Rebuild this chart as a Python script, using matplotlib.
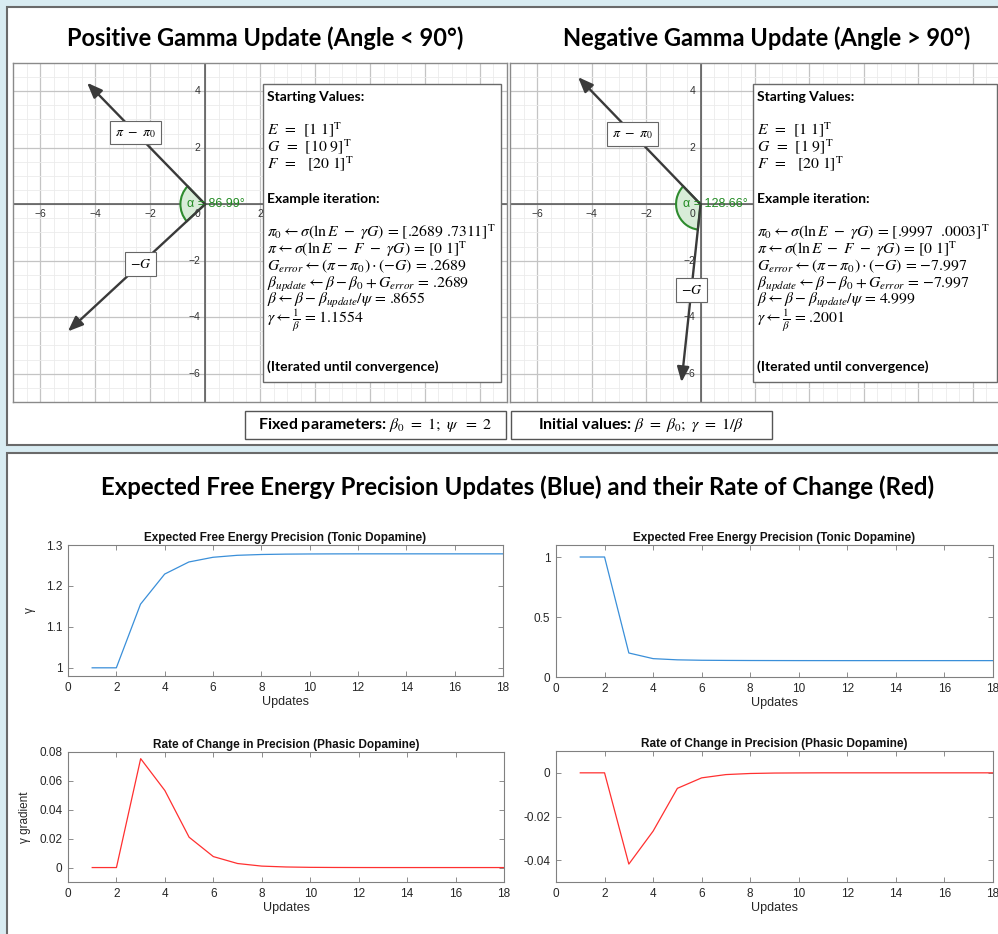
import numpy as np
import matplotlib
matplotlib.use('Agg')
import matplotlib.pyplot as plt
from matplotlib.patches import Rectangle, Wedge

plt.rcParams['mathtext.fontset'] = 'stix'
plt.rcParams['axes.unicode_minus'] = False

# ---------------- data ----------------
updates = np.arange(1, 19)
gamma_pos = [1.0, 1.0, 1.1554, 1.229, 1.2585, 1.270, 1.2748, 1.2768, 1.2777, 1.2781,
             1.2783, 1.2784, 1.2784, 1.2784, 1.2784, 1.2784, 1.2784, 1.2784]
rate_pos = [0, 0, 0.0754, 0.0533, 0.0210, 0.0076, 0.0028, 0.0010, 0.0004, 0.00015,
            0.00006, 0.00002, 0, 0, 0, 0, 0, 0]
gamma_neg = [1.0, 1.0, 0.2001, 0.153, 0.143, 0.1395, 0.1382, 0.1374, 0.1370, 0.1367,
             0.1366, 0.1365, 0.1365, 0.1365, 0.1365, 0.1365, 0.1365, 0.1365]
rate_neg = [0, 0, -0.0418, -0.0267, -0.0071, -0.0023, -0.0008, -0.0003, -0.0001, -0.00004,
            0, 0, 0, 0, 0, 0, 0, 0]

x_ticks = list(range(0, 19, 2))
yt_gamma_pos = [1, 1.1, 1.2, 1.3]
yl_gamma_pos = ['1', '1.1', '1.2', '1.3']
yt_rate_pos = [0, 0.02, 0.04, 0.06, 0.08]
yl_rate_pos = ['0', '0.02', '0.04', '0.06', '0.08']
yt_gamma_neg = [0, 0.5, 1]
yl_gamma_neg = ['0', '0.5', '1']
yt_rate_neg = [-0.04, -0.02, 0]
yl_rate_neg = ['-0.04', '-0.02', '0']

# vectors shown in the GeoGebra panels (scaled for display)
left_pi_diff = [-4.3, 4.3]
left_neg_G = [-5.0, -4.5]
right_pi_diff = [-4.5, 4.5]
right_neg_G = [-0.7, -6.3]
geo_xticks = [-6, -4, -2, 2, 4, 6, 8, 10]
geo_yticks = [-6, -4, -2, 2, 4]

left_start = [r'$E$  =  [1 1]$^{\mathrm{T}}$', r'$G$  =  [10 9]$^{\mathrm{T}}$',
              r'$F$  =   [20 1]$^{\mathrm{T}}$']
right_start = [r'$E$  =  [1 1]$^{\mathrm{T}}$', r'$G$  =  [1 9]$^{\mathrm{T}}$',
               r'$F$  =   [20 1]$^{\mathrm{T}}$']
left_iter = [r'$\pi_0 \leftarrow \sigma(\ln E\ -\ \gamma G)$ = [.2689 .7311]$^{\mathrm{T}}$',
             r'$\pi \leftarrow \sigma(\ln E\ -\ F\ -\ \gamma G)$ = [0 1]$^{\mathrm{T}}$',
             r'$G_{error} \leftarrow (\pi - \pi_0)\cdot(-G)$ = .2689',
             r'$\beta_{update} \leftarrow \beta - \beta_0 + G_{error}$ = .2689',
             r'$\beta \leftarrow \beta - \beta_{update}/\psi$ = .8655',
             r'$\gamma \leftarrow \frac{1}{\beta}$ = 1.1554']
right_iter = [r'$\pi_0 \leftarrow \sigma(\ln E\ -\ \gamma G)$ = [.9997  .0003]$^{\mathrm{T}}$',
              r'$\pi \leftarrow \sigma(\ln E\ -\ F\ -\ \gamma G)$ = [0 1]$^{\mathrm{T}}$',
              r'$G_{error} \leftarrow (\pi - \pi_0)\cdot(-G)$ = ' + '\u22127.997',
              r'$\beta_{update} \leftarrow \beta - \beta_0 + G_{error}$ = ' + '\u22127.997',
              r'$\beta \leftarrow \beta - \beta_{update}/\psi$ = 4.999',
              r'$\gamma \leftarrow \frac{1}{\beta}$ = .2001']

# ---------------- figure ----------------
W, H = 998, 934
fig = plt.figure(figsize=(W / 100, H / 100), dpi=100, facecolor='#d9ecf2')


def fx(x):
    return x / W


def fy(y):
    return 1 - y / H


def rect_px(x0, y0, x1, y1):
    return [fx(x0), fy(y1), (x1 - x0) / W, (y1 - y0) / H]


def frame(x0, y0, x1, y1, lw=1.2, ec='#707070', z=2):
    r = Rectangle((fx(x0), fy(y1)), (x1 - x0) / W, (y1 - y0) / H, transform=fig.transFigure,
                  fc='white', ec=ec, lw=lw, zorder=z)
    fig.add_artist(r)


HEAD = 'Lato'
MATHFAM = 'STIXGeneral'
# panels
frame(7, 7, 1003, 445, lw=1.5, ec='#6a6a6a', z=-5)
frame(7, 453, 1003, 940, lw=1.5, ec='#6a6a6a', z=-5)

fig.text(fx(265), fy(38), 'Positive Gamma Update (Angle < 90°)', ha='center', va='center',
         fontsize=17, fontweight='bold', family=HEAD)
fig.text(fx(767), fy(38), 'Negative Gamma Update (Angle > 90°)', ha='center', va='center',
         fontsize=17, fontweight='bold', family=HEAD)
fig.text(fx(518), fy(487), 'Expected Free Energy Precision Updates (Blue) and their Rate of Change (Red)',
         ha='center', va='center', fontsize=17.3, fontweight='bold', family=HEAD)


def geo_axes(rect, xlim, ylim, pi_vec, g_vec, pi_frac, g_frac):
    ax = fig.add_axes(rect)
    ax.set_xlim(xlim)
    ax.set_ylim(ylim)
    ax.set_xticks(np.arange(-6, 11, 2))
    ax.set_yticks(np.arange(-6, 5, 2))
    ax.set_xticks(np.arange(-7, 11.01, 0.5), minor=True)
    ax.set_yticks(np.arange(-7, 5.01, 0.5), minor=True)
    ax.grid(which='minor', color='#ebebeb', lw=0.6)
    ax.grid(which='major', color='#c4c4c4', lw=0.9)
    ax.tick_params(which='both', length=0, labelbottom=False, labelleft=False)
    ax.set_axisbelow(True)
    for s in ax.spines.values():
        s.set_color('#8a8a8a')
        s.set_linewidth(1.0)
    ax.axhline(0, color='#505050', lw=1.1, zorder=1)
    ax.axvline(0, color='#505050', lw=1.1, zorder=1)
    for v in geo_xticks:
        ax.annotate(str(v).replace('-', '\u2212'), (v, 0), xytext=(0, -5), textcoords='offset pixels',
                    ha='center', va='top', fontsize=7.5, color='#333333', family='Liberation Sans')
    for v in geo_yticks:
        ax.annotate(str(v).replace('-', '\u2212'), (0, v), xytext=(-5, 0), textcoords='offset pixels',
                    ha='right', va='center', fontsize=7.5, color='#333333', family='Liberation Sans')
    ax.annotate('0', (0, 0), xytext=(-5, -5), textcoords='offset pixels',
                ha='right', va='top', fontsize=7.5, color='#333333', family='Liberation Sans')
    a1 = np.degrees(np.arctan2(pi_vec[1], pi_vec[0])) % 360
    a2 = np.degrees(np.arctan2(g_vec[1], g_vec[0])) % 360
    ax.add_patch(Wedge((0, 0), 0.9, a1, a2, fc='#d8ecd8', ec='#2e8b2e', lw=1.5, zorder=2))
    for vec in (pi_vec, g_vec):
        ax.annotate('', xy=vec, xytext=(0, 0),
                    arrowprops=dict(arrowstyle='-|>,head_length=0.7,head_width=0.28', color='#3a3a3a',
                                    lw=1.7, shrinkA=0, shrinkB=0, mutation_scale=13), zorder=3)
    bb = dict(boxstyle='square,pad=0.35', fc='white', ec='#666666', lw=0.8)
    ax.text(pi_frac * pi_vec[0], pi_frac * pi_vec[1], r'$\pi\ -\ \pi_0$', ha='center', va='center',
            fontsize=10, bbox=bb, zorder=5)
    ax.text(g_frac * g_vec[0], g_frac * g_vec[1], r'$-G$', ha='center', va='center',
            fontsize=10, bbox=bb, zorder=5)
    ang = (a2 - a1) % 360
    ax.annotate('\u03b1 = %.2f°' % ang, (0, 0), xytext=(-18, 0), textcoords='offset pixels',
                ha='left', va='center', fontsize=9, color='#228b22', family='Liberation Sans', zorder=6)
    return ax


geo_axes(rect_px(13, 63, 507, 402), (-6.73, 10.95), (-6.72, 4.89), left_pi_diff, left_neg_G, 0.59, 0.47)
geo_axes(rect_px(510, 63, 1000, 402), (-6.80, 10.95), (-6.72, 4.89), right_pi_diff, right_neg_G, 0.555, 0.48)

# text boxes
start_y = [130, 147, 164]
iter_y = [232, 249, 266, 284, 301, 321]
for (bx0, bx1, tx, starts, iters) in [(263, 501, 267, left_start, left_iter),
                                      (753, 997, 757, right_start, right_iter)]:
    frame(bx0, 84, bx1, 382, lw=1.0, ec='#6a6a6a', z=2)
    fig.text(fx(tx), fy(97), 'Starting Values:', ha='left', va='center', fontsize=10,
             fontweight='bold', family=HEAD, zorder=3)
    fig.text(fx(tx), fy(199), 'Example iteration:', ha='left', va='center', fontsize=10,
             fontweight='bold', family=HEAD, zorder=3)
    fig.text(fx(tx), fy(367), '(Iterated until convergence)', ha='left', va='center', fontsize=10,
             fontweight='bold', family=HEAD, zorder=3)
    for s, y in zip(starts, start_y):
        fig.text(fx(tx), fy(y), s, ha='left', va='center', fontsize=11.3, family=MATHFAM, zorder=3)
    for s, y in zip(iters, iter_y):
        fig.text(fx(tx), fy(y), s, ha='left', va='center', fontsize=11.3, family=MATHFAM, zorder=3)

frame(245, 411, 506, 439, lw=1.0, ec='#555555', z=2)
frame(511, 411, 772, 439, lw=1.0, ec='#555555', z=2)
fig.text(fx(375), fy(425), r'Fixed parameters: $\beta_0\ =\ 1;\ \psi\ \ =\ 2$', ha='center', va='center',
         fontsize=11.5, fontweight='bold', family=HEAD, zorder=3)
fig.text(fx(641), fy(425), r'Initial values: $\beta\ =\ \beta_0;\ \gamma\ =\ 1/\beta$', ha='center',
         va='center', fontsize=11.5, fontweight='bold', family=HEAD, zorder=3)


# MATLAB style plots
def mat_axes(rect, y, color, ylim, yticks, ylabels, title, ylabel=None, ylab_x=None):
    ax = fig.add_axes(rect)
    ax.plot(updates, y, color=color, lw=0.9)
    ax.set_xlim(0, 18)
    ax.set_xticks(x_ticks)
    ax.set_ylim(ylim)
    ax.set_yticks(yticks)
    ax.set_yticklabels(ylabels)
    ax.tick_params(direction='in', top=True, right=True, length=3.5, width=0.6, color='#7a7a7a',
                   labelcolor='#262626', labelsize=8.5, pad=4)
    for lab in ax.get_xticklabels() + ax.get_yticklabels():
        lab.set_family('Liberation Sans')
    for s in ax.spines.values():
        s.set_color('#808080')
        s.set_linewidth(0.8)
    ax.set_title(title, fontsize=8.5, fontweight='bold', family='Liberation Sans', pad=3, color='#111111')
    ax.set_xlabel('Updates', fontsize=9, family='Liberation Sans', labelpad=2, color='#262626')
    if ylabel:
        ax.set_ylabel(ylabel, fontsize=8.5, family='Liberation Sans', color='#262626')
        ax.yaxis.set_label_coords(ylab_x, 0.5)
    return ax


mat_axes(rect_px(68, 545, 503, 676), gamma_pos, '#3a8fd9', (0.98, 1.3), yt_gamma_pos, yl_gamma_pos,
         'Expected Free Energy Precision (Tonic Dopamine)', '\u03b3', -0.073)
mat_axes(rect_px(68, 752, 504, 882), rate_pos, '#ff3030', (-0.01, 0.08), yt_rate_pos, yl_rate_pos,
         'Rate of Change in Precision (Phasic Dopamine)', '\u03b3 gradient', -0.085)
mat_axes(rect_px(556, 545, 993, 677), gamma_neg, '#3a8fd9', (0, 1.1), yt_gamma_neg, yl_gamma_neg,
         'Expected Free Energy Precision (Tonic Dopamine)')
mat_axes(rect_px(556, 751, 993, 882), rate_neg, '#ff3030', (-0.05, 0.01), yt_rate_neg, yl_rate_neg,
         'Rate of Change in Precision (Phasic Dopamine)')

fig.savefig('out.png', dpi=100, facecolor=fig.get_facecolor())
